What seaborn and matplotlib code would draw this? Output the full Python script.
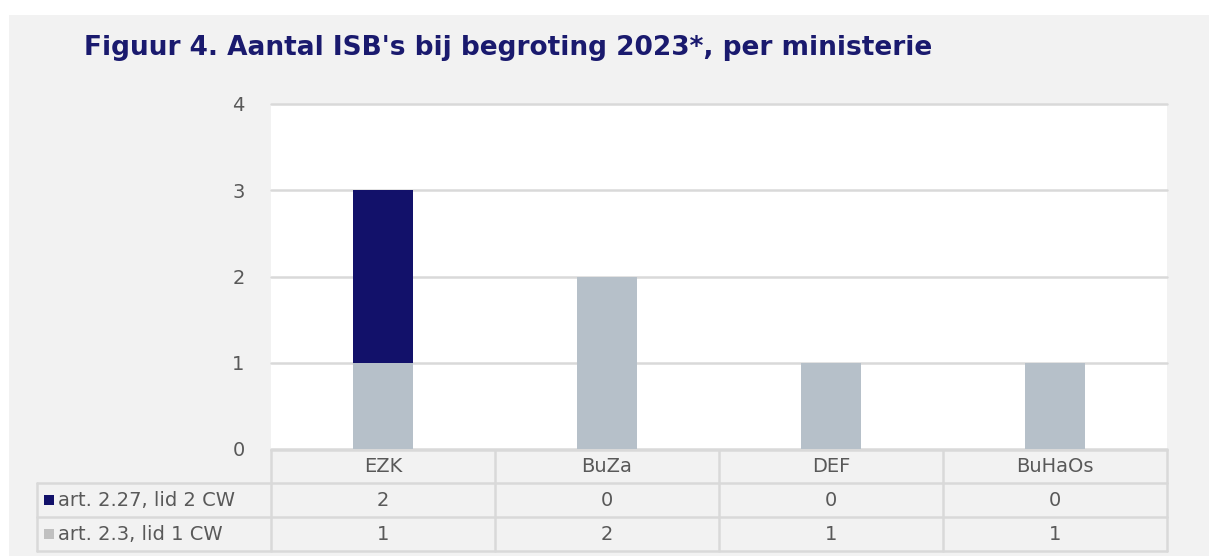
import matplotlib
matplotlib.use("Agg")
import matplotlib.pyplot as plt
import seaborn as sns
import pandas as pd
from matplotlib.patches import Rectangle

# data
ministeries = ["EZK", "BuZa", "DEF", "BuHaOs"]
art_227 = [2, 0, 0, 0]   # art. 2.27, lid 2 CW
art_23 = [1, 2, 1, 1]    # art. 2.3, lid 1 CW
series_names = ["art. 2.27, lid 2 CW", "art. 2.3, lid 1 CW"]

navy = "#12116a"
grey_bar = "#b6c0c9"
grey_key = "#c0c0c0"
grid_c = "#d9d9d9"
txt_c = "#595959"

sns.set_theme(style="white")
plt.rcParams["font.family"] = ["DejaVu Sans"]

W, H = 1209, 556
fig = plt.figure(figsize=(W / 100, H / 100), dpi=100)
fig.patch.set_facecolor("white")

def fx(px):
    return px / W

def fy(py):
    return 1 - py / H

# grey panel
fig.patches.append(Rectangle((fx(9), 0), 1 - fx(9), fy(15), transform=fig.transFigure,
                             facecolor="#f2f2f2", edgecolor="none", zorder=0))

left, right, top, bottom = 271, 1167, 104, 449
ax = fig.add_axes([fx(left), fy(bottom), fx(right - left), fy(top) - fy(bottom)])
ax.set_facecolor("white")
ax.set_zorder(1)

df = pd.DataFrame({"ministerie": ministeries,
                   "totaal": [a + b for a, b in zip(art_227, art_23)],
                   "onder": art_23})

# stacked: total first (navy), bottom layer drawn over it
sns.barplot(data=df, x="ministerie", y="totaal", color=navy, width=0.27,
            saturation=1, linewidth=0, ax=ax, zorder=3)
sns.barplot(data=df, x="ministerie", y="onder", color=grey_bar, width=0.27,
            saturation=1, linewidth=0, ax=ax, zorder=4)

ax.set_ylim(0, 4)
ax.set_xlim(-0.5, len(ministeries) - 0.5)
ax.set_yticks([0, 1, 2, 3, 4])
ax.yaxis.grid(True, color=grid_c, lw=1.8, zorder=0)
ax.set_axisbelow(True)
for s in ax.spines.values():
    s.set_visible(False)
ax.set_xticks([])
ax.set_xlabel("")
ax.set_ylabel("")
ax.tick_params(axis="y", length=0, pad=19, labelsize=14, labelcolor=txt_c)
for gl in ax.get_ygridlines():
    gl.set_clip_on(False)

# title
fig.text(fx(84), fy(48), "Figuur 4. Aantal ISB's bij begroting 2023*, per ministerie",
         fontsize=19, fontweight="bold", color="#1a1a6e", va="center", ha="left")

# data table below the axis
col_w = (right - left) / len(ministeries)
rows_y = [450, 483, 517, 551]
lab_left = 37

def hline(x0, x1, y):
    fig.add_artist(plt.Line2D([fx(x0), fx(x1)], [fy(y), fy(y)], color=grid_c, lw=1.8, zorder=2))

def vline(x, y0, y1):
    fig.add_artist(plt.Line2D([fx(x), fx(x)], [fy(y0), fy(y1)], color=grid_c, lw=1.8, zorder=2))

hline(left, right, rows_y[0])
for y in rows_y[1:]:
    hline(lab_left, right, y)
vline(lab_left, rows_y[1], rows_y[3])
for k in range(len(ministeries) + 1):
    vline(left + k * col_w, rows_y[0], rows_y[3])

for i, m in enumerate(ministeries):
    cx = left + (i + 0.5) * col_w
    fig.text(fx(cx), fy((rows_y[0] + rows_y[1]) / 2), m, ha="center", va="center",
             fontsize=14, color=txt_c)
    fig.text(fx(cx), fy((rows_y[1] + rows_y[2]) / 2), str(art_227[i]), ha="center",
             va="center", fontsize=14, color=txt_c)
    fig.text(fx(cx), fy((rows_y[2] + rows_y[3]) / 2), str(art_23[i]), ha="center",
             va="center", fontsize=14, color=txt_c)

for r, (name, key) in enumerate(zip(series_names, [navy, grey_key])):
    cy = (rows_y[r + 1] + rows_y[r + 2]) / 2
    fig.patches.append(Rectangle((fx(44), fy(cy + 5)), fx(10), fy(cy - 5) - fy(cy + 5),
                                 transform=fig.transFigure, facecolor=key,
                                 edgecolor="none", zorder=2))
    fig.text(fx(58), fy(cy), name, ha="left", va="center", fontsize=14, color=txt_c)

fig.savefig("out.png", dpi=100, facecolor=fig.get_facecolor())
